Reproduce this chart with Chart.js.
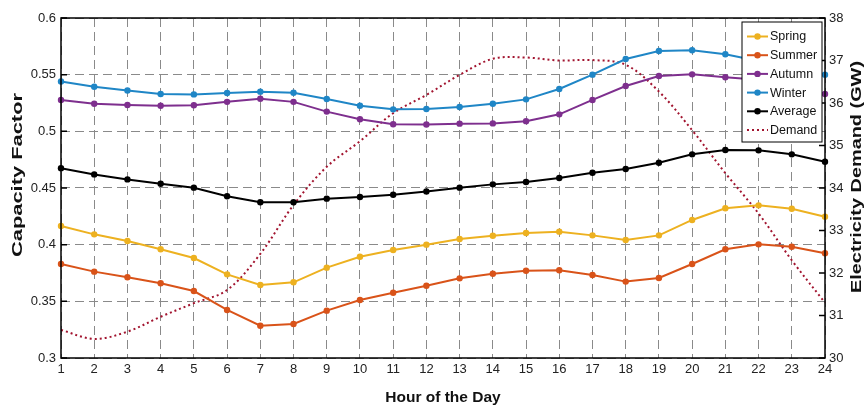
<!DOCTYPE html>
<html>
<head>
<meta charset="utf-8">
<script src="https://cdn.jsdelivr.net/npm/chart.js@4"></script>
<style>
  html, body { margin: 0; padding: 0; background: #fff; }
  canvas { display: block; }
</style>
</head>
<body>
<canvas id="chart" width="866" height="407"></canvas>
<script>
// hours 1..24
const hours = Array.from({ length: 24 }, (_, i) => String(i + 1))

// capacity factor by season (left axis)
const spring = [0.4165, 0.4091, 0.4032, 0.3959, 0.3882, 0.3738, 0.3644, 0.3668, 0.3797, 0.3894, 0.3953, 0.4000,
  0.4050, 0.4079, 0.4103, 0.4115, 0.4082, 0.4041, 0.4082, 0.4218, 0.4321, 0.4347, 0.4317, 0.4247]
const summer = [0.3829, 0.3762, 0.3712, 0.3659, 0.3591, 0.3424, 0.3285, 0.3300, 0.3418, 0.3512, 0.3576, 0.3638,
  0.3703, 0.3744, 0.3770, 0.3774, 0.3732, 0.3674, 0.3706, 0.3829, 0.3959, 0.4003, 0.3982, 0.3924]
const autumn = [0.5276, 0.5244, 0.5232, 0.5226, 0.5230, 0.5260, 0.5288, 0.5260, 0.5174, 0.5106, 0.5062, 0.5060,
  0.5068, 0.5070, 0.5090, 0.5150, 0.5277, 0.5400, 0.5488, 0.5503, 0.5477, 0.5455, 0.5410, 0.5330]
const winter = [0.5440, 0.5394, 0.5360, 0.5330, 0.5326, 0.5338, 0.5350, 0.5340, 0.5285, 0.5226, 0.5194, 0.5197,
  0.5215, 0.5244, 0.5282, 0.5374, 0.5500, 0.5638, 0.5709, 0.5715, 0.5680, 0.5620, 0.5560, 0.5500]
const average = [0.4674, 0.4620, 0.4576, 0.4538, 0.4503, 0.4427, 0.4374, 0.4374, 0.4406, 0.4420, 0.4441, 0.4470,
  0.4503, 0.4532, 0.4553, 0.4588, 0.4635, 0.4667, 0.4723, 0.4797, 0.4835, 0.4832, 0.4797, 0.4732]

// electricity demand in GW (right axis)
const demand = [30.66, 30.45, 30.62, 30.97, 31.29, 31.60, 32.45, 33.60, 34.50, 35.10, 35.76, 36.19,
  36.66, 37.04, 37.07, 37.00, 37.01, 36.90, 36.27, 35.36, 34.35, 33.40, 32.30, 31.30]

const cfTicks = [0.3, 0.35, 0.4, 0.45, 0.5, 0.55, 0.6]
const gwTicks = [30, 31, 32, 33, 34, 35, 36, 37, 38]

const FONT = '"Liberation Sans", Arial, sans-serif'

function seasonLine(label, data, color) {
  return {
    label,
    data,
    yAxisID: 'y',
    borderColor: color,
    backgroundColor: color,
    borderWidth: 2,
    pointRadius: 3.2,
    pointBorderWidth: 0,
    tension: 0,
  }
}

// inward ticks + full box around plot area, matlab style
const boxPlugin = {
  id: 'box',
  afterDatasetsDraw(chart) {
    const { ctx, chartArea: a, scales } = chart
    ctx.save()
    ctx.strokeStyle = '#000'
    ctx.lineWidth = 1.5
    ctx.setLineDash([])
    ctx.beginPath()
    scales.y.ticks.forEach((t) => {
      const y = scales.y.getPixelForValue(t.value)
      ctx.moveTo(a.left, y); ctx.lineTo(a.left + 6, y)
    })
    scales.y2.ticks.forEach((t) => {
      const y = scales.y2.getPixelForValue(t.value)
      ctx.moveTo(a.right, y); ctx.lineTo(a.right - 6, y)
    })
    ctx.stroke()
    ctx.strokeRect(a.left, a.top, a.right - a.left, a.bottom - a.top)
    ctx.restore()
  },
}

// rotated axis titles, stretched along their length like the source image
function sideTitle(ctx, text, x, y, len, angle) {
  ctx.save()
  ctx.font = 'bold 15px ' + FONT
  const w = ctx.measureText(text).width
  ctx.translate(x, y)
  ctx.rotate(angle)
  ctx.scale(len / w, 1)
  ctx.fillStyle = '#111'
  ctx.textAlign = 'center'
  ctx.textBaseline = 'middle'
  ctx.fillText(text, 0, 0)
  ctx.restore()
}

const titlePlugin = {
  id: 'sideTitles',
  afterDraw(chart) {
    const { ctx } = chart
    sideTitle(ctx, 'Capacity Factor', 18, 175, 164, -Math.PI / 2)
    sideTitle(ctx, 'Electricity Demand (GW)', 857, 177, 232, -Math.PI / 2)
  },
}

// legend box in upper right corner
const legendPlugin = {
  id: 'cornerLegend',
  afterDraw(chart) {
    const { ctx } = chart
    const x0 = 742, y0 = 22, w = 80, h = 120
    ctx.save()
    ctx.fillStyle = '#fff'
    ctx.fillRect(x0, y0, w, h)
    ctx.strokeStyle = '#000'
    ctx.lineWidth = 1
    ctx.strokeRect(x0, y0, w, h)
    ctx.font = '12.5px ' + FONT
    ctx.textBaseline = 'middle'
    chart.data.datasets.forEach((ds, i) => {
      const y = y0 + 14.5 + i * 18.7
      ctx.strokeStyle = ds.borderColor
      ctx.lineWidth = ds.borderDash ? 1.8 : 2
      ctx.setLineDash(ds.borderDash || [])
      ctx.beginPath()
      ctx.moveTo(x0 + 5, y); ctx.lineTo(x0 + 26, y)
      ctx.stroke()
      ctx.setLineDash([])
      if (!ds.borderDash) {
        ctx.fillStyle = ds.borderColor
        ctx.beginPath()
        ctx.arc(x0 + 15.5, y, 3.2, 0, Math.PI * 2)
        ctx.fill()
      }
      ctx.fillStyle = '#111'
      ctx.fillText(ds.label, x0 + 28, y + 0.5)
    })
    ctx.restore()
  },
}

new Chart(document.getElementById('chart'), {
  type: 'line',
  data: {
    labels: hours,
    datasets: [
      seasonLine('Spring', spring, '#EDB120'),
      seasonLine('Summer', summer, '#D95319'),
      seasonLine('Autumn', autumn, '#7E2F8E'),
      seasonLine('Winter', winter, '#1F86C6'),
      seasonLine('Average', average, '#000000'),
      {
        label: 'Demand',
        data: demand,
        yAxisID: 'y2',
        borderColor: '#A2142F',
        borderWidth: 2,
        borderDash: [2, 3],
        pointRadius: 0,
        tension: 0.35,
      },
    ],
  },
  options: {
    responsive: false,
    animation: false,
    layout: { padding: { top: 18, left: 0, right: 0, bottom: 0 } },
    plugins: { legend: { display: false }, tooltip: { enabled: false } },
    scales: {
      x: {
        offset: false,
        grid: { color: '#8a8a8a', lineWidth: 1, drawTicks: false },
        border: { display: false, dash: [9, 5] },
        ticks: { color: '#222', font: { family: FONT, size: 13 }, padding: 4, maxRotation: 0, autoSkip: false },
        title: { display: true, text: 'Hour of the Day', color: '#111', font: { family: FONT, size: 15.5, weight: 'bold' }, padding: { top: 0, bottom: 0 } },
        afterFit: (s) => { s.height = 49 },
      },
      y: {
        position: 'left',
        min: 0.3,
        max: 0.6,
        afterBuildTicks: (s) => { s.ticks = cfTicks.map((v) => ({ value: v })) },
        grid: { color: '#8a8a8a', lineWidth: 1, drawTicks: false },
        border: { display: false, dash: [9, 5] },
        ticks: { color: '#222', font: { family: FONT, size: 13 }, padding: 5, callback: (v) => String(+v.toFixed(2)) },
        afterFit: (s) => { s.width = 61 },
      },
      y2: {
        position: 'right',
        min: 30,
        max: 38,
        afterBuildTicks: (s) => { s.ticks = gwTicks.map((v) => ({ value: v })) },
        grid: { display: false, drawTicks: false },
        border: { display: false },
        ticks: { color: '#222', font: { family: FONT, size: 13 }, padding: 4 },
        afterFit: (s) => { s.width = 41 },
      },
    },
  },
  plugins: [boxPlugin, titlePlugin, legendPlugin],
})
</script>
</body>
</html>
